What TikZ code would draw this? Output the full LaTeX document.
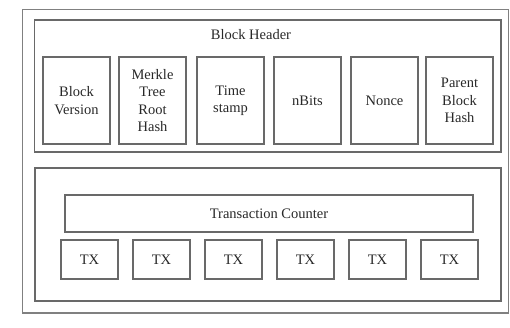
\documentclass[tikz,border=0pt]{standalone}
\usepackage{fontspec}
\setmainfont{Liberation Serif}
\definecolor{linegray}{RGB}{105,105,105}
\definecolor{textgray}{RGB}{40,40,40}
\begin{document}
\begin{tikzpicture}[x=1pt,y=-1pt,
  frame/.style={draw=linegray, line width=1.3pt, inner sep=0pt, outer sep=0pt},
  field/.style={frame, minimum width=67pt, minimum height=87pt, align=center,
    font=\fontsize{14.5}{17.5}\selectfont, text=textgray},
  txbox/.style={frame, minimum width=57pt, minimum height=39pt,
    font=\fontsize{14.5}{17}\selectfont, text=textgray},
  lbl/.style={font=\fontsize{14.5}{17}\selectfont, text=textgray, inner sep=0pt}]
\useasboundingbox (0,0) rectangle (510,327);
% containers
\node[frame, draw=linegray!85, minimum width=486pt, minimum height=303.5pt] (outer) at (265.5,161.25) {};
\node[frame, minimum width=466.5pt, minimum height=132pt] (header) at (267.75,86) {};
\node[frame, minimum width=466pt, minimum height=133pt] (body) at (268,234.5) {};
\node[lbl] (hdrtitle) at (251,35) {Block Header};
% header fields
\node[field] (ver) at (76.5,100.5) {Block\\Version};
\node[field] (merkle) at (152.5,100.5) {Merkle\\Tree\\Root\\Hash};
\node[field] (time) at (230.5,100.5) {Time\\stamp};
\node[field] (nbits) at (307.5,100.5) {nBits};
\node[field] (nonce) at (384.5,100.5) {Nonce};
\node[field] (parent) at (459.5,100.5) {Parent\\Block\\Hash};
% transaction counter
\node[frame, minimum width=408pt, minimum height=37pt, lbl] (tc) at (269,213.5) {Transaction Counter};
% transactions
\node[txbox] (tx1) at (89.5,259.5) {TX};
\node[txbox] (tx2) at (161.5,259.5) {TX};
\node[txbox] (tx3) at (233.5,259.5) {TX};
\node[txbox] (tx4) at (305.5,259.5) {TX};
\node[txbox] (tx5) at (377.5,259.5) {TX};
\node[txbox] (tx6) at (449.5,259.5) {TX};
\end{tikzpicture}
\end{document}
